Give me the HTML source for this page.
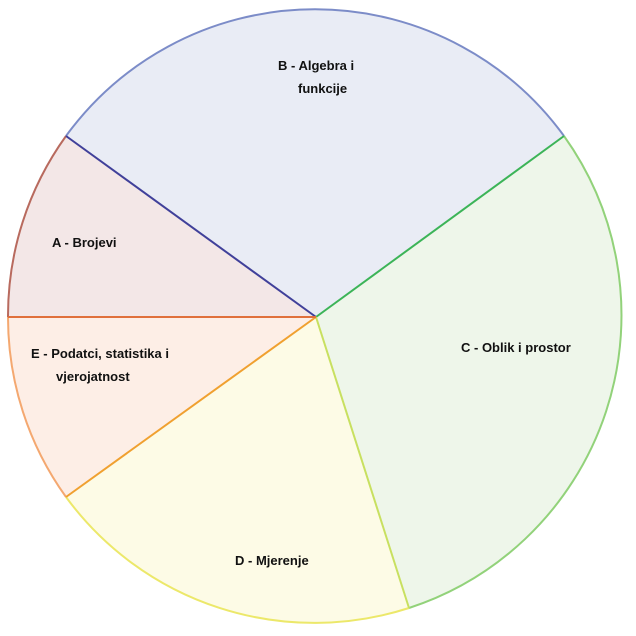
<!DOCTYPE html>
<html><head><meta charset="utf-8"><style>html,body{margin:0;padding:0;background:#fff}svg{display:block}text{font-family:"Liberation Sans",sans-serif;font-weight:bold;font-size:13px;fill:#111}</style></head>
<body>
<svg width="636" height="636" viewBox="0 0 636 636" xmlns="http://www.w3.org/2000/svg">
<!-- B -->
<path d="M316 317 L66 136 A308 308 0 0 1 564 136 Z" fill="#e9ecf5" stroke="none"/>
<path d="M66 136 A308 308 0 0 1 564 136" fill="none" stroke="#7c8cc8" stroke-width="2"/>
<!-- C -->
<path d="M316 317 L564 136 A308 308 0 0 1 409 608 Z" fill="#eef6ea"/>
<path d="M564 136 A308 308 0 0 1 409 608" fill="none" stroke="#92d27a" stroke-width="2"/>
<!-- D -->
<path d="M316 317 L409 608 A308 308 0 0 1 66 497 Z" fill="#fdfbe6"/>
<path d="M409 608 A308 308 0 0 1 66 497" fill="none" stroke="#ece86a" stroke-width="2"/>
<!-- E -->
<path d="M316 317 L66 497 A308 308 0 0 1 8 317 Z" fill="#fdeee6"/>
<path d="M66 497 A308 308 0 0 1 8 317" fill="none" stroke="#f4a870" stroke-width="2"/>
<!-- A -->
<path d="M316 317 L8 317 A308 308 0 0 1 66 136 Z" fill="#f3e7e7"/>
<path d="M8 317 A308 308 0 0 1 66 136" fill="none" stroke="#b86a5e" stroke-width="2"/>
<!-- radial lines -->
<line x1="316" y1="317" x2="66" y2="136" stroke="#40409a" stroke-width="2"/>
<line x1="316" y1="317" x2="564" y2="136" stroke="#3cb458" stroke-width="2"/>
<line x1="316" y1="317" x2="409" y2="608" stroke="#c8e060" stroke-width="2"/>
<line x1="316" y1="317" x2="66" y2="497" stroke="#f0a030" stroke-width="2"/>
<line x1="316" y1="317" x2="8" y2="317" stroke="#e0703c" stroke-width="2"/>
<text x="278" y="70">B - Algebra i</text>
<text x="298" y="93">funkcije</text>
<text x="52" y="247">A - Brojevi</text>
<text x="461" y="352">C - Oblik i prostor</text>
<text x="31" y="358">E - Podatci, statistika i</text>
<text x="56" y="381">vjerojatnost</text>
<text x="235" y="565">D - Mjerenje</text>
</svg>
</body></html>
